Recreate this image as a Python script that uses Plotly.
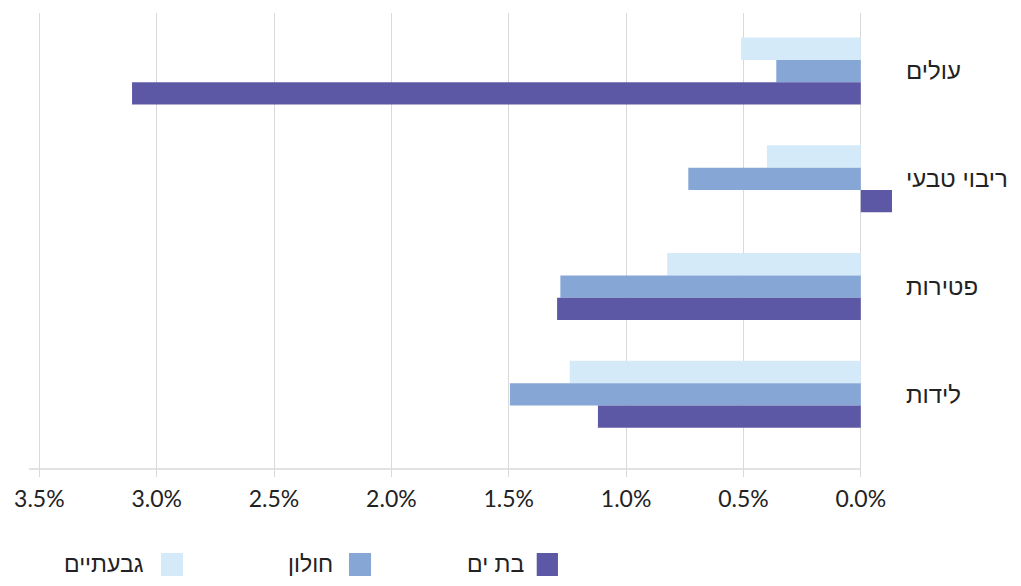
import plotly.graph_objects as go

categories = ["עולים", "ריבוי טבעי", "פטירות", "לידות"]
series_names = ["גבעתיים", "חולון", "בת ים"]
givatayim = [0.51, 0.40, 0.825, 1.24]
holon = [0.36, 0.735, 1.28, 1.495]
bat_yam = [3.105, -0.133, 1.294, 1.12]
x_ticks = [3.5, 3.0, 2.5, 2.0, 1.5, 1.0, 0.5, 0.0]

colors = ["#D4EAF8", "#86A6D6", "#5C58A6"]
series_values = [givatayim, holon, bat_yam]

X_RANGE = [3.544, -0.15]
Y_RANGE = [3.693, -0.539]

HEB_FONT = "Liberation Sans, Arial, sans-serif"
NUM_FONT = "Lato, Liberation Sans, sans-serif"

fig = go.Figure()
for name, vals, col in zip(series_names, series_values, colors):
    fig.add_trace(go.Bar(
        y=categories, x=vals, name=name, orientation="h",
        marker=dict(color=col, line=dict(width=0)),
        showlegend=False,
    ))

grid = "#D9D9D9"
fig.update_layout(
    width=1021, height=586,
    margin=dict(l=29, r=125, t=13, b=117),
    paper_bgcolor="white", plot_bgcolor="white",
    barmode="group", bargap=0.378, bargroupgap=0,
    font=dict(family=NUM_FONT, size=21, color="#222222"),
    xaxis=dict(
        range=X_RANGE, tickvals=x_ticks,
        ticktext=[f"{v:.1f}%" for v in x_ticks],
        showgrid=True, gridcolor=grid, gridwidth=1,
        zeroline=False, showline=False,
        ticks="outside", ticklen=7, tickcolor=grid, tickwidth=1,
        ticklabelstandoff=2,
        tickfont=dict(family=NUM_FONT, size=23, color="#222222"),
    ),
    yaxis=dict(
        range=Y_RANGE, side="right", showgrid=False, zeroline=False,
        showline=False, ticks="", ticklabelstandoff=9,
        tickfont=dict(family=HEB_FONT, size=24, color="#222222"),
    ),
)

# bottom axis line (from left edge of plot to 0%)
fig.add_shape(type="line", xref="x", yref="paper", x0=X_RANGE[0], x1=0,
              y0=0, y1=0, line=dict(color=grid, width=1.5))

# manual RTL legend: text to the left of the swatch
swatch_x = [(0.1522, 0.1776), (0.3691, 0.3945), (0.5856, 0.6101)]
text_x = [0.1349, 0.3525, 0.5732]
for name, col, (sx0, sx1), tx in zip(series_names, colors, swatch_x, text_x):
    fig.add_shape(type="rect", xref="paper", yref="paper",
                  x0=sx0, x1=sx1, y0=-0.2346, y1=-0.1842,
                  fillcolor=col, line=dict(width=0))
    fig.add_annotation(xref="paper", yref="paper", x=tx, y=-0.2094,
                       text=name, showarrow=False, xanchor="right", yanchor="middle",
                       font=dict(family=HEB_FONT, size=23, color="#222222"))

fig.write_html("out.html")
